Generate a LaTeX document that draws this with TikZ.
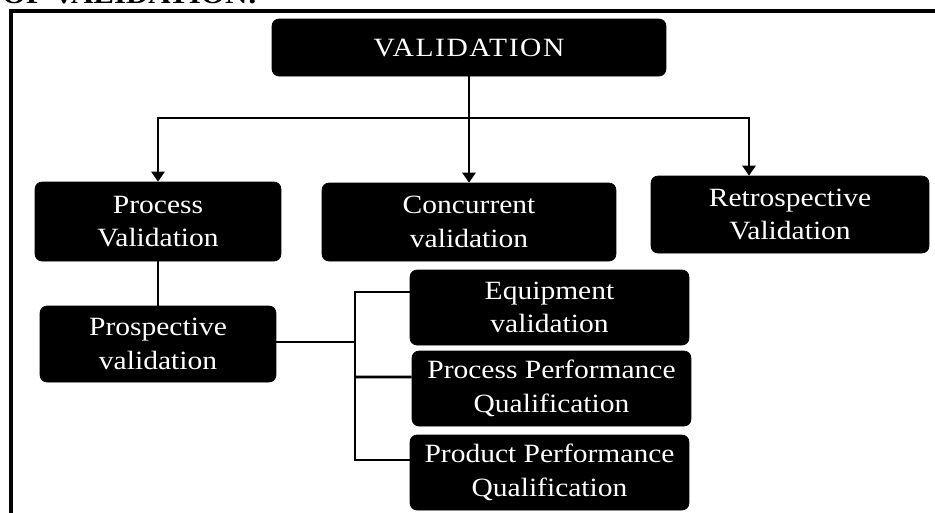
\documentclass[tikz,border=0pt]{standalone}
\usepackage{fontspec}
\setmainfont{Liberation Serif}[FakeStretch=1.12]
\usetikzlibrary{arrows.meta,positioning}
\tikzset{
  valbox/.style={
    rectangle, rounded corners=0.14cm, draw=black, fill=black,
    text=white, align=center, inner sep=0pt,
    font=\fontsize{15}{19}\selectfont
  },
  flowarrow/.style={-{Triangle[width=0.26cm,length=0.2cm]}, line width=1.6pt},
  flowline/.style={line width=1.6pt}
}
\begin{document}
\begin{tikzpicture}[x=0.02cm, y=-0.02cm,
  frame/.style={line width=1.9pt},
  heading/.style={font=\fontsize{15.7}{19}\selectfont\bfseries, inner sep=0pt}
]
\useasboundingbox (0,0) rectangle (935,512);
\clip (0,0) rectangle (935,512);

% Page frame and cut heading
\draw[frame] (11,560) -- (11,11) -- (960,11);
\node[heading, anchor=base east] (title) at (258,3) {TYPES OF VALIDATION:};

% Top
\node[valbox, minimum width=7.88cm, minimum height=1.14cm] (valid) at (469,47.5) {\addfontfeature{LetterSpace=6}VALIDATION};

% Row 1
\node[valbox, minimum width=4.92cm, minimum height=1.58cm] (procval) at (158,221.5) {Process\\Validation};
\node[valbox, minimum width=5.88cm, minimum height=1.56cm] (concval) at (469,222) {Concurrent\\validation};
\node[valbox, minimum width=5.56cm, minimum height=1.54cm] (retroval) at (790,214.5) {Retrospective\\Validation};

% Row 2
\node[valbox, minimum width=4.72cm, minimum height=1.52cm] (prosval) at (158,344) {Prospective\\validation};
\node[valbox, minimum width=5.58cm, minimum height=1.5cm] (equip) at (549.5,307.5) {Equipment\\validation};
\node[valbox, minimum width=5.58cm, minimum height=1.5cm] (ppq) at (551.5,388.5) {Process Performance\\Qualification};
\node[valbox, minimum width=5.58cm, minimum height=1.5cm] (prodpq) at (549.5,472.5) {Product Performance\\Qualification};

% Connectors
\coordinate (split) at (469,118);
\coordinate (brk) at (355,342);
\draw[flowline] (valid) -- (split);
\draw[flowarrow] (split) -- (concval);
\draw[flowarrow] (split) -| (procval);
\draw[flowarrow] (split) -| ([xshift=-0.82cm]retroval.north);
\draw[flowline] (procval) -- (prosval);
\draw[flowline] (prosval.east |- brk) -- (brk);
\draw[flowline] ([yshift=0.31cm]equip.west) -| (brk) |- ([yshift=0.25cm]prodpq.west);
\draw[flowline] (brk |- ppq.west) ++(0,-11.5) -- ([yshift=0.23cm]ppq.west);
\end{tikzpicture}
\end{document}
